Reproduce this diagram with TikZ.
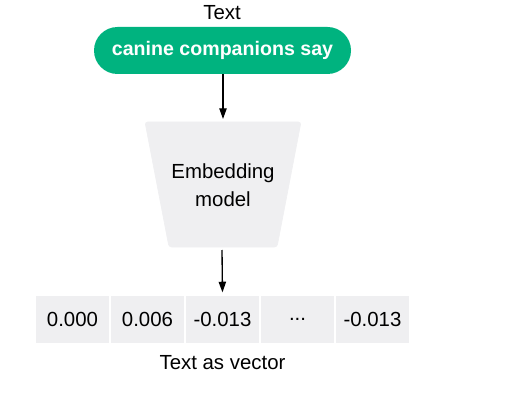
\documentclass[tikz,border=0pt]{standalone}
\usepackage{fontspec}
\setmainfont{Liberation Sans}
\usetikzlibrary{arrows.meta}
\definecolor{pillgreen}{RGB}{0,179,127}
\definecolor{boxgray}{RGB}{239,239,241}
\begin{document}
\begin{tikzpicture}[x=0.75pt,y=-0.75pt,
  lbl/.style={font=\fontsize{15.3}{18}\selectfont, text=black},
  cell/.style={fill=boxgray, minimum width=73*0.75pt, minimum height=47*0.75pt, inner sep=0pt, font=\fontsize{15.3}{18}\selectfont},
  conn/.style={-{Triangle[length=8pt,width=5.5pt]}, line width=1pt}]
\useasboundingbox (0,0) rectangle (513,406);
\node[lbl] (title) at (222,13) {Text};
\node[fill=pillgreen, rounded corners=23.5*0.75pt, minimum width=257*0.75pt, minimum height=47*0.75pt, inner sep=0pt, text=white, font=\bfseries\fontsize{14.7}{17}\selectfont] (pill) at (222.5,50.5) {canine companions say};
\filldraw[fill=boxgray, draw=boxgray, line width=0.5pt, rounded corners=2pt] (145,122) -- (301,122) -- (277,247) -- (169,247) -- cycle;
\coordinate (embtop) at (223,119);
\coordinate (embbot) at (222,250);
\node[lbl, align=center] (emb) at (223,185) {Embedding\\[3pt]model};
\node[cell] (c1) at (72.5,319.5) {0.000};
\node[cell] (c2) at (147.5,319.5) {0.006};
\node[cell] (c3) at (222.5,319.5) {-0.013};
\node[cell] (c4) at (297.5,319.5) {...};
\node[cell] (c5) at (372.5,319.5) {-0.013};
\node[lbl] (vec) at (222.5,363) {Text as vector};
\draw[conn] (pill.south -| embtop) -- (embtop);
\draw[conn, shorten >=2.5pt] (embbot) -- (c3.north);
\end{tikzpicture}
\end{document}
